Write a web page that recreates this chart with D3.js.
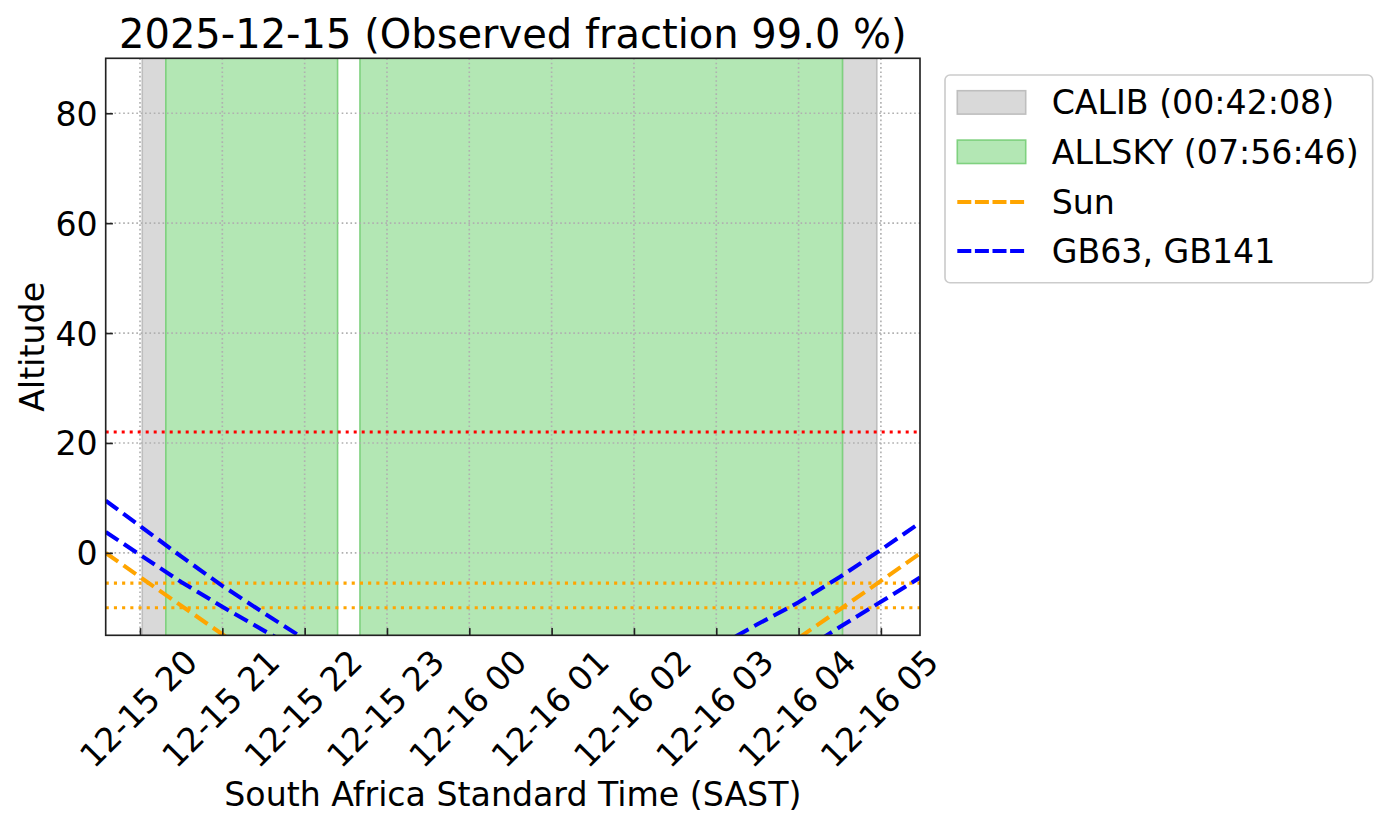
<!DOCTYPE html>
<html>
<head>
<meta charset="utf-8">
<script src="https://cdn.jsdelivr.net/npm/d3@7"></script>
<style>
  body { margin: 0; background: #ffffff; }
  svg { display: block; }
  text { font-family: "DejaVu Sans", sans-serif; fill: #000; }
</style>
</head>
<body>
<svg id="chart" width="1388" height="829"></svg>
<script>
// ---------------- data ----------------
const chartTitle = "2025-12-15 (Observed fraction 99.0 %)";
const xLabel = "South Africa Standard Time (SAST)";
const yLabel = "Altitude";
const xDomain = ["2025-12-15 19:35:00", "2025-12-16 05:28:30"];
const yDomain = [-15, 90];
const xTickTimes = [
  "2025-12-15 20:00", "2025-12-15 21:00", "2025-12-15 22:00", "2025-12-15 23:00",
  "2025-12-16 00:00", "2025-12-16 01:00", "2025-12-16 02:00", "2025-12-16 03:00",
  "2025-12-16 04:00", "2025-12-16 05:00"
];
const yTicks = [0, 20, 40, 60, 80];

const calibSpans = [
  ["2025-12-15 20:01:40", "2025-12-15 20:18:50"],
  ["2025-12-16 04:32:00", "2025-12-16 04:57:00"]
];
const allskySpans = [
  ["2025-12-15 20:18:50", "2025-12-15 22:24:00"],
  ["2025-12-15 22:40:20", "2025-12-16 04:32:00"]
];
const elevationLimit = [22];
const sunLimits = [-5.5, -10];

const sunAlt = [
  ["2025-12-15 19:35", 0.0], ["2025-12-15 20:00", -4.4], ["2025-12-15 20:30", -9.6],
  ["2025-12-15 21:00", -14.8], ["2025-12-15 21:10", -16.5],
  [null, null],
  ["2025-12-16 04:00", -15.5], ["2025-12-16 04:30", -10.3], ["2025-12-16 05:00", -5.1],
  ["2025-12-16 05:28:30", -0.1]
];
const gb63Alt = [
  ["2025-12-15 19:35", 3.8], ["2025-12-15 20:00", -0.35], ["2025-12-15 20:30", -5.3],
  ["2025-12-15 21:00", -9.8], ["2025-12-15 21:30", -14.1], ["2025-12-15 21:45", -16.2],
  [null, null],
  ["2025-12-16 03:00", -17.2], ["2025-12-16 03:15", -15.1], ["2025-12-16 03:30", -13.0],
  ["2025-12-16 04:00", -9.0], ["2025-12-16 04:30", -4.4], ["2025-12-16 05:00", 0.55],
  ["2025-12-16 05:28:30", 5.46]
];
const gb141Alt = [
  ["2025-12-15 19:35", 9.5], ["2025-12-15 20:00", 4.9], ["2025-12-15 20:30", -0.65],
  ["2025-12-15 21:00", -6.0], ["2025-12-15 21:30", -10.9], ["2025-12-15 22:00", -15.7],
  [null, null],
  ["2025-12-16 04:15", -15.9], ["2025-12-16 04:30", -13.5], ["2025-12-16 05:00", -8.9],
  ["2025-12-16 05:28:30", -4.5]
];
const legendLabels = ["CALIB (00:42:08)", "ALLSKY (07:56:46)", "Sun", "GB63, GB141"];

// ---------------- helpers ----------------
const parseFull = d3.utcParse("%Y-%m-%d %H:%M:%S");
const parseT = s => s == null ? null : parseFull(s.length === 16 ? s + ":00" : s);
const fmt = d3.utcFormat("%m-%d %H");

const L = 105.7, R = 920, T = 58.3, B = 635.3;
const FS = 33.2;

const svg = d3.select("#chart");
const x = d3.scaleUtc().domain(xDomain.map(parseT)).range([L, R]);
const y = d3.scaleLinear().domain(yDomain).range([B, T]);

svg.append("defs").append("clipPath").attr("id", "plotclip")
  .append("rect").attr("x", L).attr("y", T).attr("width", R - L).attr("height", B - T);

const plot = svg.append("g").attr("clip-path", "url(#plotclip)");

// spans
const GRAY_FILL = "#d9d9d9", GRAY_EDGE = "#bebebe";
const GREEN_FILL = "#b3e7b4", GREEN_EDGE = "#7fd17f";
plot.selectAll("rect.calib").data(calibSpans).join("rect").attr("class", "calib")
  .attr("x", d => x(parseT(d[0]))).attr("width", d => x(parseT(d[1])) - x(parseT(d[0])))
  .attr("y", T - 2).attr("height", B - T + 4)
  .attr("fill", GRAY_FILL).attr("stroke", GRAY_EDGE).attr("stroke-width", 1.6);
plot.selectAll("rect.allsky").data(allskySpans).join("rect").attr("class", "allsky")
  .attr("x", d => x(parseT(d[0]))).attr("width", d => x(parseT(d[1])) - x(parseT(d[0])))
  .attr("y", T - 2).attr("height", B - T + 4)
  .attr("fill", GREEN_FILL).attr("stroke", GREEN_EDGE).attr("stroke-width", 1.6);

// grid
const xTickDates = xTickTimes.map(parseT);
plot.selectAll("line.vgrid").data(xTickDates).join("line").attr("class", "vgrid")
  .attr("x1", d => x(d)).attr("x2", d => x(d)).attr("y1", T).attr("y2", B)
  .attr("stroke", "#b0b0b0").attr("stroke-width", 1.65).attr("stroke-dasharray", "1.65,2.72");
plot.selectAll("line.hgrid").data(yTicks).join("line").attr("class", "hgrid")
  .attr("x1", L).attr("x2", R).attr("y1", d => y(d)).attr("y2", d => y(d))
  .attr("stroke", "#b0b0b0").attr("stroke-width", 1.65).attr("stroke-dasharray", "1.65,2.72");

// horizontal limit lines
plot.selectAll("line.elev").data(elevationLimit).join("line").attr("class", "elev")
  .attr("x1", L).attr("x2", R).attr("y1", d => y(d)).attr("y2", d => y(d))
  .attr("stroke", "#ff0000").attr("stroke-width", 3.0).attr("stroke-dasharray", "3,5");
plot.selectAll("line.sunlim").data(sunLimits).join("line").attr("class", "sunlim")
  .attr("x1", L).attr("x2", R).attr("y1", d => y(d)).attr("y2", d => y(d))
  .attr("stroke", "#ffa500").attr("stroke-width", 3.1).attr("stroke-dasharray", "3.1,5.1");

// altitude curves
const line = d3.line()
  .defined(d => d[0] != null)
  .x(d => x(parseT(d[0])))
  .y(d => y(d[1]));
const curves = [
  { data: sunAlt, color: "#ffa500" },
  { data: gb63Alt, color: "#0000ff" },
  { data: gb141Alt, color: "#0000ff" }
];
plot.selectAll("path.alt").data(curves).join("path").attr("class", "alt")
  .attr("d", d => line(d.data)).attr("fill", "none")
  .attr("stroke", d => d.color).attr("stroke-width", 4.1)
  .attr("stroke-dasharray", "15.2,6.6");

// axes
const xAxis = d3.axisBottom(x).tickValues(xTickDates).tickFormat(fmt)
  .tickSizeInner(-7.2).tickSizeOuter(0);
const gx = svg.append("g").attr("transform", `translate(0,${B})`).call(xAxis);
gx.select(".domain").remove();
gx.selectAll(".tick line").attr("stroke", "#222").attr("stroke-width", 1.65);
gx.selectAll(".tick text")
  .attr("y", 0).attr("dy", "0.35em")
  .attr("font-size", FS).attr("font-family", "DejaVu Sans").attr("fill", "#000")
  .attr("text-anchor", "middle")
  .attr("transform", `translate(-2,${708.5 - B}) rotate(-45)`);

const yAxis = d3.axisLeft(y).tickValues(yTicks).tickSizeInner(-7.2).tickSizeOuter(0).tickPadding(8);
const gy = svg.append("g").attr("transform", `translate(${L},0)`).call(yAxis);
gy.select(".domain").remove();
gy.selectAll(".tick line").attr("stroke", "#222").attr("stroke-width", 1.65);
gy.selectAll(".tick text").attr("font-size", FS).attr("font-family", "DejaVu Sans")
  .attr("fill", "#000").attr("dy", "0.36em");

// frame
svg.append("rect").attr("x", L).attr("y", T).attr("width", R - L).attr("height", B - T)
  .attr("fill", "none").attr("stroke", "#222").attr("stroke-width", 1.65);

// titles
svg.append("text").attr("x", (L + R) / 2).attr("y", 48).attr("text-anchor", "middle")
  .attr("font-size", 40).text(chartTitle);
svg.append("text").attr("x", (L + R) / 2).attr("y", 806).attr("text-anchor", "middle")
  .attr("font-size", FS).text(xLabel);
svg.append("text").attr("transform", `translate(44,${(T + B) / 2}) rotate(-90)`)
  .attr("text-anchor", "middle").attr("font-size", FS).text(yLabel);

// legend
const lg = svg.append("g");
lg.append("rect").attr("x", 945).attr("y", 75).attr("width", 427.7).attr("height", 207.7)
  .attr("rx", 5).attr("fill", "#fff").attr("fill-opacity", 0.8)
  .attr("stroke", "#cccccc").attr("stroke-width", 1.65);
const rowY = [102.4, 151.8, 202, 251];
const baseY = [114.3, 163.7, 213.5, 263];
const hx0 = 957.3, hx1 = 1025.7;
lg.append("rect").attr("x", hx0).attr("y", rowY[0] - 11.7).attr("width", hx1 - hx0).attr("height", 23.4)
  .attr("fill", GRAY_FILL).attr("stroke", GRAY_EDGE).attr("stroke-width", 1.6);
lg.append("rect").attr("x", hx0).attr("y", rowY[1] - 11.7).attr("width", hx1 - hx0).attr("height", 23.4)
  .attr("fill", GREEN_FILL).attr("stroke", GREEN_EDGE).attr("stroke-width", 1.6);
lg.append("line").attr("x1", hx0).attr("x2", hx1).attr("y1", rowY[2]).attr("y2", rowY[2])
  .attr("stroke", "#ffa500").attr("stroke-width", 4).attr("stroke-dasharray", "14,3.6");
lg.append("line").attr("x1", hx0).attr("x2", hx1).attr("y1", rowY[3]).attr("y2", rowY[3])
  .attr("stroke", "#0000ff").attr("stroke-width", 4).attr("stroke-dasharray", "14,3.6");
lg.selectAll("text.lbl").data(legendLabels).join("text").attr("class", "lbl")
  .attr("x", 1051.7).attr("y", (d, i) => baseY[i]).attr("font-size", FS).text(d => d);
</script>
</body>
</html>
